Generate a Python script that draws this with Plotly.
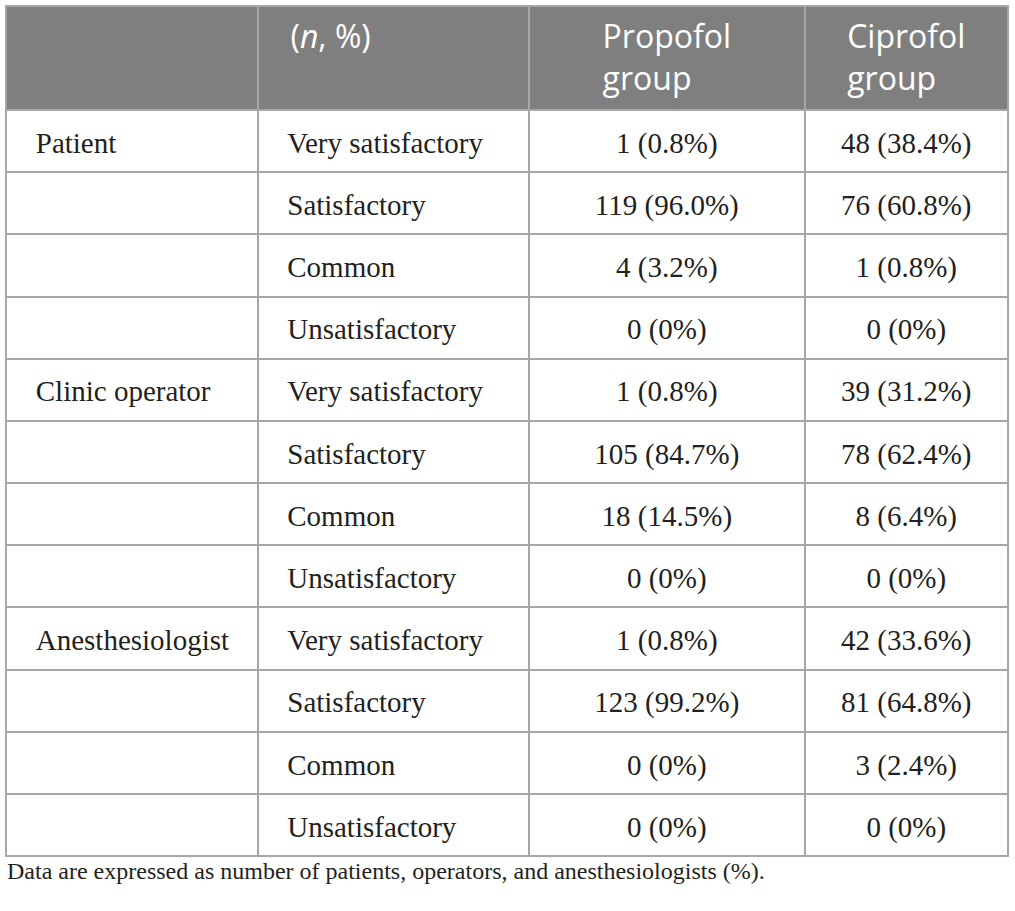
import plotly.graph_objects as go

# header row
header_labels = ["", "(<i>n</i>, %)", "Propofol<br>group", "Ciprofol<br>group"]

# body columns
respondents = ["Patient", "", "", "",
               "Clinic operator", "", "", "",
               "Anesthesiologist", "", "", ""]
ratings = ["Very satisfactory", "Satisfactory", "Common", "Unsatisfactory"] * 3
propofol = ["1 (0.8%)", "119 (96.0%)", "4 (3.2%)", "0 (0%)",
            "1 (0.8%)", "105 (84.7%)", "18 (14.5%)", "0 (0%)",
            "1 (0.8%)", "123 (99.2%)", "0 (0%)", "0 (0%)"]
ciprofol = ["48 (38.4%)", "76 (60.8%)", "1 (0.8%)", "0 (0%)",
            "39 (31.2%)", "78 (62.4%)", "8 (6.4%)", "0 (0%)",
            "42 (33.6%)", "81 (64.8%)", "3 (2.4%)", "0 (0%)"]

footnote = "Data are expressed as number of patients, operators, and anesthesiologists (%)."

W, H = 1015, 911
GRID = "#a6a6a6"
NBSP = "\u00a0"
PAD = NBSP * 3


def padded(values):
    return [PAD + v if v else v for v in values]


def lowered(values, size=29):
    # plotly tables have no valign: an invisible small first line pushes text down
    return [NBSP + "<br><span style='font-size:%dpx'>%s</span>" % (size, v) if v else v
            for v in values]


head = padded(header_labels[:2]) + header_labels[2:]

fig = go.Figure(go.Table(
    domain=dict(x=[6 / W, 1008 / W], y=[(H - 858) / H, (H - 6) / H]),
    columnwidth=[251, 271, 275, 203],
    header=dict(
        values=head,
        align=["left", "left", "center", "center"],
        fill_color="#7f7f7f",
        line=dict(color=GRID, width=2),
        font=dict(family="Open Sans", size=32, color="white"),
        height=104,
    ),
    cells=dict(
        values=[lowered(padded(respondents)), lowered(padded(ratings)),
                lowered(propofol), lowered(ciprofol)],
        align=["left", "left", "center", "center"],
        fill_color="white",
        line=dict(color=GRID, width=2),
        font=dict(family="Liberation Serif", size=16, color="#231f20"),
        height=62.17,
    ),
))

fig.add_annotation(
    text=footnote, x=5 / W, y=(H - 871) / H, xref="paper", yref="paper",
    xanchor="left", yanchor="middle", showarrow=False,
    font=dict(family="Liberation Serif", size=24, color="#231f20"),
)

fig.update_layout(
    width=W, height=H,
    margin=dict(l=0, r=0, t=0, b=0),
    paper_bgcolor="white",
)

fig.write_html("out.html", config={"displayModeBar": False},
               post_script="document.body.style.margin='0px';")
